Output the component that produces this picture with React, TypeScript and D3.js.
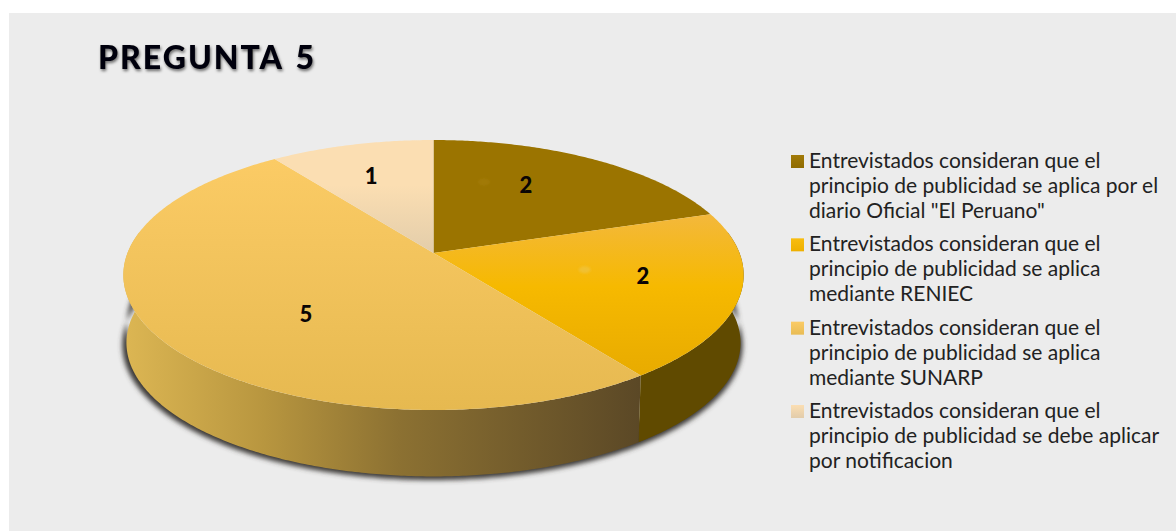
import { useEffect, useRef } from 'react'
import * as d3 from 'd3'

const categories = [
  ['Entrevistados consideran que el', 'principio de publicidad se aplica por el', 'diario Oficial "El Peruano"'],
  ['Entrevistados consideran que el', 'principio de publicidad se aplica', 'mediante RENIEC'],
  ['Entrevistados consideran que el', 'principio de publicidad se aplica', 'mediante SUNARP'],
  ['Entrevistados consideran que el', 'principio de publicidad se debe aplicar', 'por notificacion'],
]
const values = [2, 2, 5, 1]
const swatches = [
  ['#a27a08', '#8f6c00'],
  ['#f8bd10', '#eeb000'],
  ['#fbcb65', '#e8bc55'],
  ['#fbdeb2', '#e2ccab'],
]
const topStops = [
  ['#9b7400', '#9b7400'],
  ['#f3b83c', '#e8ab00'],
  ['#fbcb65', '#e6b950'],
  ['#fbdeb2', '#e3cdaa'],
]
// where each value label sits inside its slice (radius, degrees off the slice middle)
const labelRadius = [0.654, 0.687, 0.58, 0.686]
const labelOffset = [-5.7, -3.7, -12, -1.2]
const title = 'PREGUNTA 5'
const font = 'Lato, "Noto Sans", sans-serif'

const W = 1176
const H = 531

// perspective view of the unit disc: far edge is squeezed, near edge stretched
const cx = 433.5
const cy = 253
const R = 306
const S = 131.4
const P = 0.163
const depth = 68

const project = (a: number, r = 1, drop = 0, scale = 1): [number, number] => {
  const u = Math.sin(a) * r
  const v = -Math.cos(a) * r
  const w = 1 - P * v
  return [cx + (R * scale * u) / w, cy + drop + (S * scale * v) / w]
}

const arcAngles = (a0: number, a1: number) => {
  const n = Math.max(2, Math.ceil(Math.abs(a1 - a0) / 0.01))
  return d3.range(n + 1).map((i) => a0 + ((a1 - a0) * i) / n)
}

export default function App() {
  const ref = useRef<SVGSVGElement>(null)

  useEffect(() => {
    const svg = d3.select(ref.current)
    svg.selectAll('*').remove()

    const pie = d3.pie<number>().sort(null)
    const arcs = pie(values)
    const line = d3.line()
    const defs = svg.append('defs')

    const blur = defs.append('filter').attr('id', 'blur').attr('x', '-10%').attr('y', '-10%').attr('width', '120%').attr('height', '120%')
    blur.append('feGaussianBlur').attr('stdDeviation', 2.5)

    const soft = defs.append('filter').attr('id', 'soft').attr('x', '-50%').attr('y', '-50%').attr('width', '200%').attr('height', '200%')
    soft.append('feGaussianBlur').attr('stdDeviation', 1.2)

    const titleShadow = defs.append('filter').attr('id', 'titleShadow').attr('x', '-10%').attr('y', '-30%').attr('width', '120%').attr('height', '170%')
    titleShadow.append('feDropShadow').attr('dx', 1).attr('dy', 2).attr('stdDeviation', 1.5).attr('flood-color', '#000').attr('flood-opacity', 0.55)

    topStops.forEach((s, i) => {
      const g = defs.append('linearGradient').attr('id', `top${i}`).attr('gradientUnits', 'userSpaceOnUse')
        .attr('x1', 0).attr('x2', 0).attr('y1', i === 3 ? 185 : i === 1 ? 214 : 160).attr('y2', i === 3 ? 253 : i === 1 ? 376 : 410)
      g.append('stop').attr('offset', 0).attr('stop-color', s[0])
      if (i === 1) g.append('stop').attr('offset', 0.45).attr('stop-color', '#f6b900')
      g.append('stop').attr('offset', 1).attr('stop-color', s[1])
    })

    swatches.forEach((s, i) => {
      const g = defs.append('linearGradient').attr('id', `swatch${i}`).attr('x1', 0).attr('x2', 0).attr('y1', 0).attr('y2', 1)
      g.append('stop').attr('offset', 0).attr('stop-color', s[0])
      g.append('stop').attr('offset', 1).attr('stop-color', s[1])
    })

    const wall = defs.append('linearGradient').attr('id', 'wall').attr('gradientUnits', 'userSpaceOnUse')
      .attr('x1', 125).attr('x2', 640).attr('y1', 0).attr('y2', 0)
    wall.append('stop').attr('offset', 0).attr('stop-color', '#dcb653')
    wall.append('stop').attr('offset', 0.27).attr('stop-color', '#b8963f')
    wall.append('stop').attr('offset', 0.53).attr('stop-color', '#8c7132')
    wall.append('stop').attr('offset', 1).attr('stop-color', '#5b4826')

    svg.append('rect').attr('x', 9).attr('y', 13).attr('width', W - 9).attr('height', H - 13).attr('fill', '#ececec')

    const leftEdge = Math.PI + Math.PI / 2 + 0.165
    const rightEdge = Math.PI / 2 - 0.165

    // shadow under the disc, only its near rim shows past the wall
    const shadowPts = arcAngles(rightEdge, leftEdge).map((a) => project(a, 1, depth + 2, 1))
    svg.append('path')
      .attr('d', line(shadowPts.concat(arcAngles(leftEdge, rightEdge).map((a) => project(a, 1, 48, 0.985)))) + 'Z')
      .attr('fill', '#3c3a38').attr('filter', 'url(#blur)').attr('transform', 'translate(-1,0)')

    // side wall: third slice (gradient) and second slice (dark)
    const wallSlice = (a0: number, a1: number, fill: string) => {
      const low = arcAngles(a0, a1).map((a) => project(a, 1, depth, 0.99))
      const high = arcAngles(a1, a0).map((a) => project(a))
      svg.append('path').attr('d', line(low.concat(high)) + 'Z').attr('fill', fill)
    }
    wallSlice(arcs[1].endAngle, leftEdge, 'url(#wall)')
    wallSlice(rightEdge, arcs[1].endAngle, '#604a00')

    // top of the disc
    arcs.forEach((d, i) => {
      const pts = arcAngles(d.startAngle, d.endAngle).map((a) => project(a))
      svg.append('path').attr('d', line([[cx, cy] as [number, number]].concat(pts)) + 'Z').attr('fill', `url(#top${i})`)
    })

    // faint smudges the source has left of the first two labels
    arcs.slice(0, 2).forEach((d, i) => {
      const mid = (d.startAngle + d.endAngle) / 2 + ((i === 0 ? -19 : -3.5) * Math.PI) / 180
      const [x, y] = project(mid, i === 0 ? 0.62 : 0.5)
      svg.append('ellipse').attr('cx', x).attr('cy', y).attr('rx', 6).attr('ry', 3.5)
        .attr('fill', i === 0 ? '#a88010' : '#f0c23a').attr('opacity', i === 0 ? 0.5 : 0.8).attr('filter', 'url(#soft)')
    })

    // value labels
    arcs.forEach((d, i) => {
      const mid = (d.startAngle + d.endAngle) / 2 + (labelOffset[i] * Math.PI) / 180
      const [x, y] = project(mid, labelRadius[i])
      svg.append('text').attr('x', x).attr('y', y).attr('text-anchor', 'middle').attr('dy', '0.35em')
        .attr('font-family', font).attr('font-weight', 900).attr('font-size', 22).attr('fill', '#0a0505')
        .text(values[i])
    })

    svg.append('text').attr('x', 98).attr('y', 69).attr('font-family', font).attr('font-weight', 900)
      .attr('font-size', 32).attr('letter-spacing', 2).attr('word-spacing', 3).attr('fill', '#05050a').attr('filter', 'url(#titleShadow)').text(title)

    // legend
    const legendTop = d3.scaleLinear().domain([0, 3]).range([168, 418])
    categories.forEach((lines, i) => {
      const y = legendTop(i)
      svg.append('rect').attr('x', 791).attr('y', y - 13).attr('width', 13).attr('height', 13).attr('fill', `url(#swatch${i})`)
      lines.forEach((t, j) => {
        svg.append('text').attr('x', 809).attr('y', y + j * 25).attr('font-family', font)
          .attr('font-size', 21).attr('fill', '#222').text(t)
      })
    })
  }, [])

  return <svg ref={ref} width={W} height={H} style={{ position: 'absolute', left: 0, top: 0, background: '#fff' }} />
}
